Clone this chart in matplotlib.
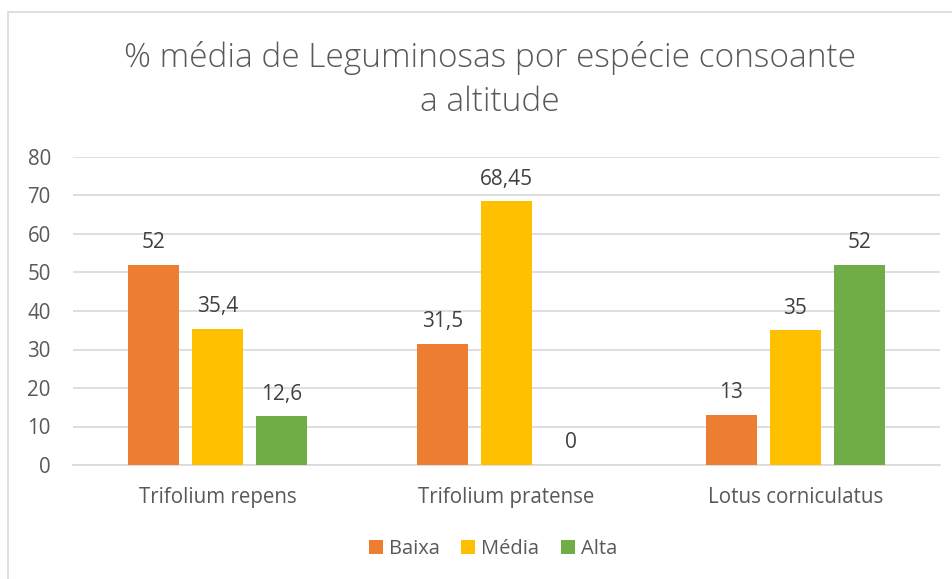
import numpy as np
import matplotlib.pyplot as plt
from matplotlib.patches import Rectangle

plt.rcParams['font.family'] = ['Open Sans', 'DejaVu Sans']

# data
especies = ["Trifolium repens", "Trifolium pratense", "Lotus corniculatus"]
series = ["Baixa", "Média", "Alta"]
baixa = [52, 31.5, 13]
media = [35.4, 68.45, 35]
alta = [12.6, 0, 52]
rotulos = [["52", "31,5", "13"], ["35,4", "68,45", "35"], ["12,6", "0", "52"]]
cores = ["#ED7D31", "#FFC000", "#70AD47"]

fig = plt.figure(figsize=(9.53, 5.79), dpi=100)
# outer chart border (right/bottom edges cut off in the original)
fig.add_artist(Rectangle((8/953, -0.01), 1.0, 1 - 12/579 + 0.01, transform=fig.transFigure,
                         fill=False, edgecolor="#d9d9d9", lw=1.2))

ax = fig.add_axes([73/953, 1 - 465/579, 867/953, 308/579])
x = np.arange(3)
w = 51/289
step = 64/289
for i, vals in enumerate([baixa, media, alta]):
    pos = x + (i - 1) * step
    ax.bar(pos, vals, width=w, color=cores[i], label=series[i], zorder=3)
    for p, v, t in zip(pos, vals, rotulos[i]):
        ax.text(p, v + 3.0, t, ha="center", va="bottom", fontsize=15, color="#404040")

ax.set_xlim(-0.5, 2.5)
ax.set_ylim(0, 80)
ax.set_yticks(range(0, 81, 10))
ax.yaxis.grid(True, color="#d9d9d9", lw=1.2, zorder=0)
ax.set_xticks(x)
ax.set_xticklabels(especies)
ax.tick_params(length=0, labelsize=14.8, labelcolor="#595959")
ax.tick_params(axis="x", pad=16)
ax.tick_params(axis="y", pad=16)
for s in ["top", "right", "left"]:
    ax.spines[s].set_visible(False)
ax.spines["bottom"].set_color("#d9d9d9")
ax.spines["bottom"].set_linewidth(1.2)

fig.text(490/953, 1 - 80/579, "% média de Leguminosas por espécie consoante\na altitude",
         ha="center", va="center", fontsize=24, color="#595959", fontweight="light",
         linespacing=1.45)

ax.legend(loc="center", bbox_to_anchor=(493/953, 1 - 549/579), bbox_transform=fig.transFigure,
          ncol=3, frameon=False, fontsize=14.5, labelcolor="#595959", handlelength=0.7,
          handleheight=0.7, handletextpad=0.3, columnspacing=1.05)

fig.savefig("out.png", dpi=100)
